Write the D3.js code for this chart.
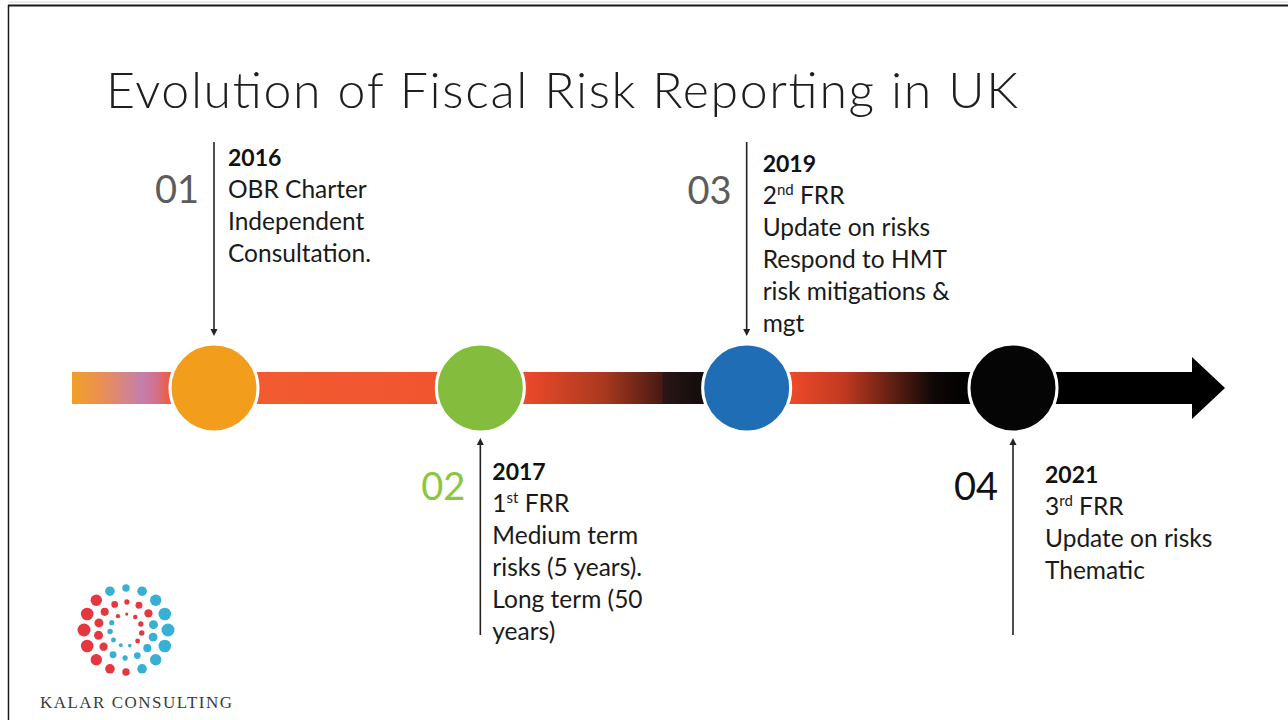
<!DOCTYPE html>
<html>
<head>
<meta charset="utf-8">
<script src="https://cdn.jsdelivr.net/npm/d3@7"></script>
<style>
  body { margin: 0; background: #fff; }
  text { font-family: Lato, "Open Sans", sans-serif; }
</style>
</head>
<body>
<div id="chart"></div>
<script>
'use strict';

var titleText   = "Evolution of Fiscal Risk Reporting in UK";
var stepLabels  = ["01", "02", "03", "04"];
var stepYears   = ["2016", "2017", "2019", "2021"];
var stepSides   = ["top", "bottom", "top", "bottom"];
var stepLines   = [
    ["OBR Charter", "Independent", "Consultation."],
    ["1^st FRR", "Medium term", "risks (5 years).", "Long term (50", "years)"],
    ["2^nd FRR", "Update on risks", "Respond to HMT", "risk mitigations &", "mgt"],
    ["3^rd FRR", "Update on risks", "Thematic"]
];
var companyName = "KALAR CONSULTING";

// styles
var circleColors = ["#f29d1c", "#84bd3d", "#1f6db5", "#050505"];
var labelColors  = ["#5c5c5c", "#8cc63f", "#5c5c5c", "#111111"];
var segmentStops = [
    [[0, "#f0a02a"], [0.3, "#ea8f52"], [0.72, "#c57dae"], [0.86, "#d2708c"], [1, "#f05a3a"]],
    [[0, "#f25a30"], [1, "#f05530"]],
    [[0, "#ee4a2a"], [0.45, "#a8391f"], [0.77, "#4a1a14"], [0.78, "#2a1616"], [1, "#140c0c"]],
    [[0, "#ee4a2a"], [0.3, "#c03a20"], [0.8, "#100808"], [1, "#000"]],
    [[0, "#000"], [1, "#000"]]
];

function timelineChart() {
    var scope = {};
    var exports = {};

    scope.cw = 1288;
    scope.ch = 720;
    scope.barY = 388;
    scope.barH = 32;
    scope.radius = 44;
    scope.barStart = 72;
    scope.shaftEnd = 1194;
    scope.arrowTip = 1225;
    scope.arrowHalf = 31;
    scope.lineGap = 32;
    scope.textDx = [14, 12, 16, 32];
    scope.textY  = [166, 480, 172, 483];
    scope.labelY = [203, 500, 204, 500];
    scope.xScale = undefined;

    scope.appendSvg = function(div) {
        var svg = d3.select(div).append("svg")
            .attr("width", scope.cw)
            .attr("height", scope.ch);
        svg.append("rect").attr("width", scope.cw).attr("height", scope.ch).attr("fill", "#fff");
        return svg;
    };

    scope.appendFrame = function(svg) {
        svg.append("line").attr("x1", 8).attr("x2", scope.cw).attr("y1", 2).attr("y2", 2)
            .attr("stroke", "#d8d8d8").attr("stroke-width", 1);
        svg.append("line").attr("x1", 8).attr("x2", scope.cw).attr("y1", 5.5).attr("y2", 5.5)
            .attr("stroke", "#1a1a1a").attr("stroke-width", 2);
        svg.append("line").attr("x1", 8.5).attr("x2", 8.5).attr("y1", 5).attr("y2", scope.ch)
            .attr("stroke", "#1a1a1a").attr("stroke-width", 1.5);
    };

    scope.appendTitle = function(svg) {
        svg.append("text")
            .attr("x", 106).attr("y", 108)
            .attr("font-size", 50)
            .attr("font-weight", 300)
            .attr("fill", "#1e1e1e")
            .attr("textLength", 912)
            .attr("lengthAdjust", "spacing")
            .text(titleText);
    };

    scope.appendBar = function(svg) {
        var defs = svg.append("defs");
        var xs = stepLabels.map(function(d) { return scope.xScale(d); });
        var bounds = [scope.barStart].concat(xs).concat([scope.shaftEnd]);

        segmentStops.forEach(function(stops, i) {
            var x0 = i === 0 ? bounds[0] : bounds[i] + scope.radius;
            var x1 = i === segmentStops.length - 1 ? bounds[i + 1] : bounds[i + 1] - scope.radius;
            var g = defs.append("linearGradient")
                .attr("id", "seg" + i)
                .attr("gradientUnits", "userSpaceOnUse")
                .attr("x1", x0).attr("x2", x1).attr("y1", 0).attr("y2", 0);
            g.selectAll("stop").data(stops).enter().append("stop")
                .attr("offset", function(d) { return d[0]; })
                .attr("stop-color", function(d) { return d[1]; });
        });

        svg.append("g").selectAll("rect")
            .data(segmentStops)
            .enter().append("rect")
            .attr("x", function(d, i) { return bounds[i]; })
            .attr("width", function(d, i) { return bounds[i + 1] - bounds[i]; })
            .attr("y", scope.barY - scope.barH / 2)
            .attr("height", scope.barH)
            .attr("fill", function(d, i) { return "url(#seg" + i + ")"; });

        svg.append("path")
            .attr("d", "M" + (scope.shaftEnd - 2) + "," + (scope.barY - scope.arrowHalf) +
                       "L" + scope.arrowTip + "," + scope.barY +
                       "L" + (scope.shaftEnd - 2) + "," + (scope.barY + scope.arrowHalf) + "Z")
            .attr("fill", "#000");
    };

    scope.appendCircles = function(svg) {
        svg.append("g").selectAll("circle")
            .data(stepLabels)
            .enter().append("circle")
            .attr("cx", function(d) { return scope.xScale(d); })
            .attr("cy", scope.barY)
            .attr("r", scope.radius)
            .attr("fill", function(d, i) { return circleColors[i]; })
            .attr("stroke", "#fff")
            .attr("stroke-width", 3);
    };

    scope.appendConnectors = function(svg) {
        var g = svg.append("g").selectAll("g")
            .data(stepLabels)
            .enter().append("g");

        g.append("line")
            .attr("x1", function(d) { return scope.xScale(d); })
            .attr("x2", function(d) { return scope.xScale(d); })
            .attr("y1", function(d, i) { return stepSides[i] === "top" ? 142 : 635; })
            .attr("y2", function(d, i) { return stepSides[i] === "top" ? 330 : 444; })
            .attr("stroke", "#222")
            .attr("stroke-width", 1.6);

        g.append("path")
            .attr("d", function(d, i) {
                var x = scope.xScale(d);
                if (stepSides[i] === "top") {
                    return "M" + (x - 3.5) + ",329L" + (x + 3.5) + ",329L" + x + ",336Z";
                }
                return "M" + (x - 3.5) + ",445L" + (x + 3.5) + ",445L" + x + ",438Z";
            })
            .attr("fill", "#222");
    };

    scope.appendTexts = function(svg) {
        var g = svg.append("g").selectAll("g")
            .data(stepLabels)
            .enter().append("g");

        g.append("text")
            .attr("x", function(d) { return scope.xScale(d) - 15; })
            .attr("y", function(d, i) { return scope.labelY[i]; })
            .attr("text-anchor", "end")
            .attr("font-size", 38)
            .attr("fill", function(d, i) { return labelColors[i]; })
            .text(function(d) { return d; });

        g.append("text")
            .attr("x", function(d, i) { return scope.xScale(d) + scope.textDx[i]; })
            .attr("y", function(d, i) { return scope.textY[i]; })
            .attr("font-size", 23)
            .attr("font-weight", 700)
            .attr("fill", "#111")
            .text(function(d, i) { return stepYears[i]; });

        g.each(function(d, i) {
            var node = d3.select(this);
            stepLines[i].forEach(function(line, j) {
                var t = node.append("text")
                    .attr("x", scope.xScale(d) + scope.textDx[i])
                    .attr("y", scope.textY[i] + scope.lineGap * (j + 1))
                    .attr("font-size", 24.5)
                    .attr("fill", "#1a1a1a");
                var m = line.match(/^(.*?)\^(\w+)(.*)$/);
                if (m) {
                    t.append("tspan").text(m[1]);
                    t.append("tspan").attr("font-size", 15).attr("dy", -9).text(m[2]);
                    t.append("tspan").attr("dy", 9).text(m[3]);
                } else {
                    t.text(line);
                }
            });
        });
    };

    scope.appendLogo = function(svg) {
        var cx = 126, cy = 630;
        var rings = [
            {r: 42, n: 16, size: 6.2, redFrom: 125, redTo: 292},
            {r: 28, n: 14, size: 4.3, redFrom: 30, redTo: 225},
            {r: 16, n: 11, size: 2.6, redFrom: -50, redTo: 150}
        ];
        var dots = [];
        rings.forEach(function(ring, k) {
            for (var i = 0; i < ring.n; i++) {
                var a = 360 * i / ring.n + k * 11;
                var rad = a * Math.PI / 180;
                var norm = ((a - ring.redFrom) % 360 + 360) % 360;
                var red = norm <= (ring.redTo - ring.redFrom);
                dots.push({
                    x: cx + ring.r * Math.cos(rad),
                    y: cy - ring.r * Math.sin(rad),
                    s: ring.size * (0.6 + 0.45 * Math.abs(Math.cos(rad))),
                    c: red ? "#e3262f" : "#27a9cf"
                });
            }
        });
        svg.append("g").selectAll("circle")
            .data(dots)
            .enter().append("circle")
            .attr("cx", function(d) { return d.x; })
            .attr("cy", function(d) { return d.y; })
            .attr("r", function(d) { return d.s; })
            .attr("fill", function(d) { return d.c; })
            .attr("opacity", 0.92);

        svg.append("text")
            .attr("x", 40).attr("y", 708)
            .style("font-family", "'Liberation Serif', 'DejaVu Serif', serif")
            .attr("font-size", 17)
            .attr("fill", "#3a3a3a")
            .attr("textLength", 192)
            .attr("lengthAdjust", "spacing")
            .text(companyName);
    };

    exports.run = function(div) {
        scope.xScale = d3.scalePoint().domain(stepLabels).range([214, 1013]);
        var svg = scope.appendSvg(div);
        scope.appendFrame(svg);
        scope.appendTitle(svg);
        scope.appendConnectors(svg);
        scope.appendBar(svg);
        scope.appendCircles(svg);
        scope.appendTexts(svg);
        scope.appendLogo(svg);
    };

    return exports;
}

timelineChart().run("#chart");
</script>
</body>
</html>
